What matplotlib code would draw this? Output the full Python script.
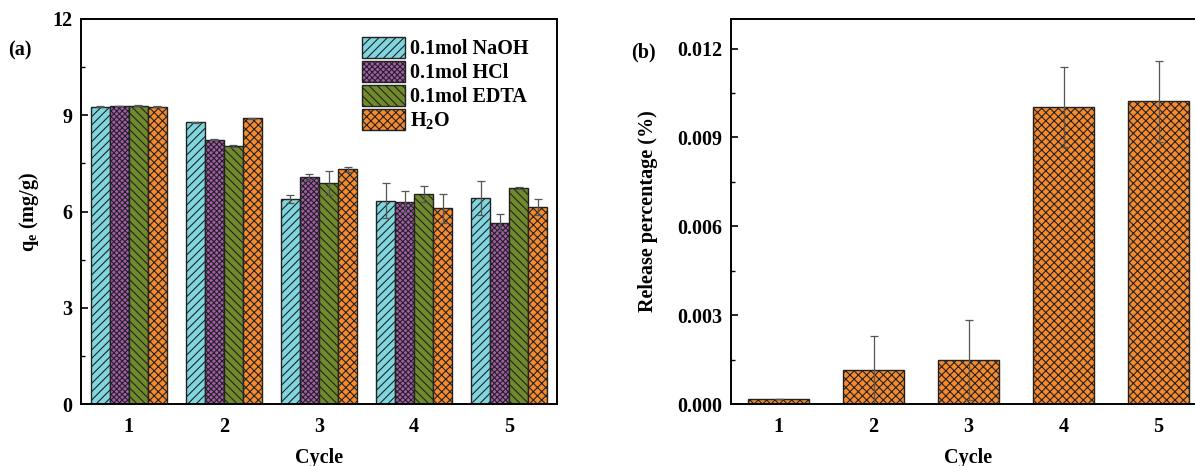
import numpy as np
import matplotlib
matplotlib.use("Agg")
import matplotlib.pyplot as plt

plt.rcParams['font.family'] = ['Liberation Serif', 'DejaVu Serif']
plt.rcParams['font.weight'] = 'bold'
plt.rcParams['mathtext.fontset'] = 'custom'
plt.rcParams['mathtext.rm'] = 'Liberation Serif:bold'
plt.rcParams['mathtext.bf'] = 'Liberation Serif:bold'
plt.rcParams['hatch.linewidth'] = 0.8

cycles = [1, 2, 3, 4, 5]
labels = ['0.1mol NaOH', '0.1mol HCl', '0.1mol EDTA', 'H$_\\mathbf{2}$O']
naoh = [9.27, 8.78, 6.39, 6.34, 6.42]
naoh_err = [0.01, 0.02, 0.13, 0.55, 0.53]
hcl = [9.29, 8.24, 7.08, 6.30, 5.65]
hcl_err = [0.01, 0.01, 0.10, 0.33, 0.27]
edta = [9.30, 8.05, 6.89, 6.55, 6.74]
edta_err = [0.02, 0.03, 0.38, 0.25, 0.03]
h2o = [9.27, 8.90, 7.31, 6.10, 6.14]
h2o_err = [0.01, 0.01, 0.09, 0.45, 0.26]

release = [0.00018, 0.00116, 0.00150, 0.01004, 0.01022]
release_err = [0.0, 0.00115, 0.00135, 0.00135, 0.00136]

colors = ['#80d6df', '#a55dab', '#718b2c', '#f68a2c']
hatches = ['////', 'xxxxxx', '\\\\\\\\', 'xxxx']

fig = plt.figure(figsize=(11.95, 4.66), dpi=100)
ax1 = fig.add_axes([81 / 1195, 1 - 404 / 466, 476 / 1195, 385 / 466])
ax2 = fig.add_axes([731 / 1195, 1 - 404 / 466, 475 / 1195, 385 / 466])

x = np.array(cycles)
w = 0.2
series = [(naoh, naoh_err), (hcl, hcl_err), (edta, edta_err), (h2o, h2o_err)]
for i, (vals, errs) in enumerate(series):
    ax1.bar(x + (i - 1.5) * w, vals, w, yerr=errs, color=colors[i], hatch=hatches[i],
            edgecolor='#222222', linewidth=1.0, label=labels[i],
            error_kw=dict(ecolor='#555555', elinewidth=0.9, capsize=3, capthick=0.9))

ax1.set_xlim(0.5, 5.5)
ax1.set_ylim(0, 12)
ax1.set_yticks([0, 3, 6, 9, 12])
ax1.set_yticks([1.5, 4.5, 7.5, 10.5], minor=True)
ax1.set_xticks(cycles)
ax1.set_ylabel('q$_\\mathbf{e}$ (mg/g)', fontsize=14.5, fontweight='bold', labelpad=8)
ax1.set_xlabel('Cycle', fontsize=14.5, fontweight='bold', labelpad=8)
leg = ax1.legend(loc='upper right', bbox_to_anchor=(0.965, 0.985), frameon=False,
                 handlelength=2.1, handleheight=1.2, handletextpad=0.25, labelspacing=0.1,
                 borderaxespad=0.2, prop={'weight': 'bold', 'size': 14.5})
fig.text(8 / 1195, 1 - 55 / 466, '(a)', fontsize=14.5, fontweight='bold')

ax2.bar(x, release, 0.65, yerr=release_err, color=colors[3], hatch='xxxx',
        edgecolor='#222222', linewidth=1.0,
        error_kw=dict(ecolor='#555555', elinewidth=0.9, capsize=3, capthick=0.9))
ax2.set_xlim(0.5, 5.5)
ax2.set_ylim(0, 0.013)
ax2.set_yticks([0, 0.003, 0.006, 0.009, 0.012])
ax2.set_yticklabels(['0.000', '0.003', '0.006', '0.009', '0.012'])
ax2.set_yticks([0.0015, 0.0045, 0.0075, 0.0105], minor=True)
ax2.set_xticks(cycles)
ax2.set_ylabel('Release percentage (%)', fontsize=14.5, fontweight='bold', labelpad=14)
ax2.set_xlabel('Cycle', fontsize=14.5, fontweight='bold', labelpad=8)
fig.text(631 / 1195, 1 - 57 / 466, '(b)', fontsize=14.5, fontweight='bold')

for ax in (ax1, ax2):
    for s in ax.spines.values():
        s.set_linewidth(1.4)
    ax.tick_params(axis='y', which='major', direction='in', length=5, width=1.2,
                   labelsize=14.5, pad=6)
    ax.tick_params(axis='y', which='minor', direction='in', length=3, width=1.0)
    ax.tick_params(axis='x', length=0, labelsize=14.5, pad=9)
    for t in ax.get_xticklabels() + ax.get_yticklabels():
        t.set_fontweight('bold')

fig.savefig('out.png', dpi=100)
